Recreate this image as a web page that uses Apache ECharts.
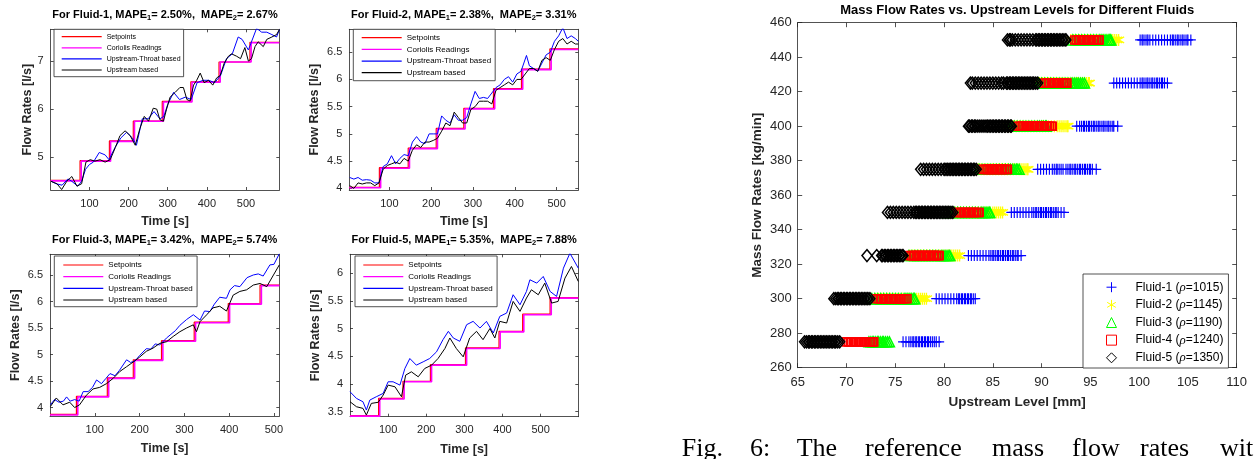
<!DOCTYPE html>
<html><head><meta charset="utf-8">
<script src="https://cdn.jsdelivr.net/npm/echarts@6/dist/echarts.min.js"></script>
<style>html,body{margin:0;padding:0;background:#fff}#c{width:1255px;height:459px}</style>
</head><body><div id="c"></div>
<script>
// ---------------- time-series panels ----------------
const lineNames = ['Setpoints', 'Coriolis Readings', 'Upstream-Throat based', 'Upstream based'];
const panelFluids = ['Fluid-1', 'Fluid-2', 'Fluid-3', 'Fluid-5'];
const mape1 = ['2.50%', '2.38%', '3.42%', '5.35%'];
const mape2 = ['2.67%', '3.31%', '5.74%', '7.88%'];
const timeTicks = [100, 200, 300, 400, 500];
const f1YTicks = [5, 6, 7];
const f2YTicks = [4, 4.5, 5, 5.5, 6, 6.5];
const f3YTicks = [4, 4.5, 5, 5.5, 6, 6.5];
const f5YTicks = [3.5, 4, 4.5, 5, 5.5, 6];

// Fluid-1
const f1StepT = [1, 76, 151, 212, 286, 359, 431, 510, 585];
const f1Set = [4.52, 4.93, 5.34, 5.75, 6.16, 6.57, 6.98, 7.39];
const f1CorT = [1, 79, 154, 215, 289, 362, 434, 513, 585];
const f1Cor = [4.51, 4.92, 5.33, 5.75, 6.15, 6.56, 6.98, 7.38];
const f1Throat = [[2,4.5],[15,4.45],[30,4.42],[45,4.55],[55,4.5],[70,4.4],[80,4.5],[90,4.75],[100,4.85],[110,4.9],[125,5.1],[140,5.05],[150,4.95],[165,5.2],[180,5.4],[195,5.52],[210,5.4],[220,5.25],[235,5.8],[250,5.8],[265,5.95],[280,5.8],[290,5.85],[300,6.1],[315,6.35],[330,6.2],[345,6.25],[360,6.2],[375,6.55],[390,6.6],[405,6.6],[420,6.55],[435,6.7],[450,7.05],[465,7.15],[480,7.5],[490,7.45],[506,7.23],[527,7.68],[540,7.6],[553,7.6],[566,7.55],[578,7.5],[585,7.65]];
const f1Up = [[2,4.5],[17,4.45],[29,4.33],[42,4.5],[55,4.6],[68,4.4],[80,4.45],[91,4.9],[102,4.95],[114,4.92],[127,4.95],[140,4.9],[153,4.95],[166,5.2],[178,5.45],[191,5.55],[204,5.45],[217,5.25],[229,5.6],[240,5.85],[251,5.75],[263,6.02],[272,6.0],[280,5.78],[289,5.75],[297,6.0],[306,6.25],[319,6.35],[331,6.45],[340,6.45],[349,6.2],[357,6.17],[366,6.5],[374,6.6],[383,6.75],[393,6.55],[404,6.6],[415,6.5],[425,6.65],[434,6.7],[444,6.95],[455,7.1],[463,7.15],[476,7.1],[486,7.05],[497,7.28],[506,7.0],[514,7.05],[523,7.3],[531,7.4],[544,7.3],[553,7.45],[566,7.5],[578,7.55],[585,7.65]];

// Fluid-2
const f2StepT = [4, 76, 145, 212, 278, 349, 416, 484, 552];
const f2Set = [4.02, 4.38, 4.74, 5.10, 5.47, 5.83, 6.19, 6.56];
const f2CorT = [4, 79, 148, 215, 281, 352, 419, 487, 552];
const f2Cor = [4.01, 4.37, 4.73, 5.09, 5.46, 5.82, 6.18, 6.55];
const f2Throat = [[5,4.2],[15,4.17],[25,4.2],[35,4.15],[45,4.16],[55,4.15],[65,4.1],[75,4.1],[85,4.4],[95,4.45],[105,4.6],[115,4.45],[125,4.55],[135,4.62],[145,4.6],[155,4.85],[165,4.95],[175,4.85],[185,4.82],[195,5.0],[205,5.0],[215,5.0],[225,5.33],[235,5.25],[245,5.2],[255,5.35],[265,5.25],[275,5.25],[285,5.3],[295,5.55],[305,5.78],[315,5.65],[325,5.67],[335,5.65],[345,5.75],[355,5.85],[365,5.9],[375,6.0],[385,6.05],[395,5.95],[405,6.1],[415,6.15],[428,6.44],[435,6.25],[445,6.2],[455,6.15],[465,6.3],[475,6.45],[485,6.5],[495,6.7],[505,6.8],[515,6.95],[525,6.75],[535,6.8],[545,6.75],[552,6.7]];
const f2Up = [[5,4.05],[15,4.0],[25,4.1],[35,4.08],[45,4.1],[55,4.1],[65,4.05],[75,4.1],[85,4.35],[95,4.42],[105,4.45],[115,4.48],[125,4.45],[135,4.55],[145,4.5],[155,4.7],[165,4.8],[175,4.75],[185,4.85],[195,4.85],[205,4.88],[215,4.92],[225,5.05],[235,5.2],[245,5.15],[255,5.4],[265,5.3],[275,5.2],[285,5.2],[295,5.45],[305,5.5],[315,5.6],[325,5.6],[335,5.6],[345,5.55],[355,5.8],[365,5.85],[375,5.9],[385,5.95],[395,5.9],[405,6.0],[415,6.0],[425,6.1],[435,6.2],[445,6.2],[455,6.15],[465,6.35],[475,6.4],[485,6.35],[495,6.55],[505,6.7],[515,6.75],[525,6.65],[535,6.7],[545,6.65],[552,6.65]];

// Fluid-3
const f3StepT = [0, 59, 128, 186, 249, 322, 398, 469, 512];
const f3Set = [3.87, 4.21, 4.56, 4.90, 5.26, 5.61, 5.96, 6.31];
const f3CorT = [0, 62, 131, 189, 252, 325, 401, 472, 512];
const f3Cor = [3.86, 4.20, 4.55, 4.89, 5.25, 5.60, 5.95, 6.30];
const f3Throat = [[1,4.05],[10,4.15],[20,4.1],[30,4.12],[37,4.2],[45,4.12],[55,4.15],[65,4.12],[74,4.3],[85,4.3],[95,4.38],[104,4.52],[115,4.45],[125,4.55],[134,4.64],[145,4.6],[155,4.7],[171,4.9],[180,4.85],[190,4.88],[200,4.98],[215,5.11],[225,5.1],[235,5.2],[245,5.18],[260,5.31],[270,5.38],[280,5.45],[290,5.55],[305,5.66],[320,5.75],[335,5.65],[345,5.82],[357,5.81],[367,5.95],[379,6.08],[394,6.06],[402,6.22],[412,6.3],[424,6.28],[440,6.45],[454,6.5],[465,6.52],[476,6.48],[491,6.69],[500,6.7],[512,6.9]];
const f3Up = [[1,4.02],[14,4.18],[29,4.05],[44,4.1],[55,4.0],[66,4.05],[81,4.23],[96,4.35],[111,4.38],[126,4.45],[141,4.55],[156,4.68],[171,4.77],[186,4.86],[200,4.95],[215,5.06],[230,5.12],[245,5.21],[260,5.24],[275,5.34],[290,5.43],[305,5.5],[320,5.56],[327,5.43],[335,5.62],[350,5.75],[364,5.88],[379,5.91],[394,5.82],[409,6.12],[424,6.19],[439,6.22],[454,6.31],[469,6.34],[484,6.28],[499,6.5],[512,6.69]];

// Fluid-5
const f5StepT = [0, 75, 139, 211, 303, 391, 453, 525, 599];
const f5Set = [3.43, 3.74, 4.05, 4.35, 4.65, 4.95, 5.26, 5.56];
const f5CorT = [0, 78, 142, 214, 306, 394, 456, 528, 599];
const f5Cor = [3.42, 3.73, 4.04, 4.34, 4.64, 4.94, 5.25, 5.55];
const f5Throat = [[0,3.86],[17,3.74],[34,3.68],[43,3.53],[52,3.71],[69,3.77],[87,3.83],[100,4.04],[113,4.04],[131,3.98],[144,4.28],[157,4.46],[174,4.34],[192,4.4],[209,4.46],[227,4.58],[244,4.8],[258,4.95],[271,4.83],[288,4.77],[306,5.07],[323,5.13],[341,5.01],[358,5.13],[376,4.92],[393,5.22],[411,5.28],[428,5.61],[446,5.43],[463,5.67],[472,5.88],[490,5.82],[507,5.94],[525,5.67],[542,5.58],[560,6.09],[577,6.36],[599,6.09]];
const f5Up = [[0,3.68],[17,3.59],[34,3.56],[43,3.44],[56,3.65],[74,3.67],[87,3.8],[100,3.98],[118,3.95],[135,3.77],[146,4.16],[161,4.22],[179,4.13],[196,4.28],[214,4.34],[231,4.46],[249,4.64],[262,4.83],[279,4.64],[297,4.49],[314,4.83],[332,4.95],[349,4.8],[367,5.0],[380,4.83],[393,5.13],[411,5.1],[428,5.49],[446,5.31],[463,5.55],[476,5.7],[494,5.61],[511,5.82],[529,5.46],[546,5.49],[564,5.91],[581,6.12],[599,5.85]];

// ---------------- scatter panel ----------------
const flowLevels = [275, 300, 325, 350, 375, 400, 425, 450];
const fluidNames = ['Fluid-1', 'Fluid-2', 'Fluid-3', 'Fluid-4', 'Fluid-5'];
const fluidRho = ['1015', '1145', '1190', '1240', '1350'];
const levelTicksX = [65, 110];
const levelTicksY = [260, 460];
const fluid1X = [
  [75.8,76.1,76.4,76.6,76.8,76.9,77.1,77.2,77.4,77.5,77.7,77.8,78.0,78.1,78.3,78.4,78.6,78.8,79.0,79.2,79.5],
  [79.2,79.5,79.8,80.1,80.4,80.7,81.0,81.3,81.5,81.6,81.8,81.9,82.1,82.2,82.4,82.5,82.7,82.8,83.0,83.2],
  [82.5,82.8,83.1,83.4,83.7,84.0,84.3,84.6,84.8,85.0,85.1,85.3,85.5,85.6,85.8,86.0,86.1,86.3,86.5,86.6,86.8,87.0,87.1,87.3,87.5,87.6,87.9],
  [86.9,87.2,87.5,87.8,88.1,88.4,88.7,89.0,89.2,89.4,89.5,89.7,89.9,90.0,90.2,90.4,90.5,90.7,90.9,91.0,91.2,91.4,91.5,91.7,92.0,92.3],
  [89.6,89.9,90.2,90.5,90.8,91.1,91.3,91.5,91.6,91.8,92.0,92.2,92.5,92.7,92.9,93.0,93.2,93.4,93.5,93.7,93.9,94.0,94.2,94.4,94.5,94.7,94.9,95.0,95.2,95.6],
  [93.6,93.9,94.1,94.3,94.4,94.6,94.8,94.9,95.1,95.3,95.4,95.6,95.8,95.9,96.1,96.3,96.4,96.6,96.8,96.9,97.1,97.3,97.4,97.8],
  [97.4,97.7,98.0,98.3,98.6,98.9,99.2,99.5,99.8,100.1,100.3,100.4,100.6,100.8,100.9,101.1,101.3,101.4,101.6,101.8,101.9,102.1,102.3,102.4,102.6,102.9],
  [100.1,100.3,100.4,100.6,100.8,100.9,101.1,101.4,101.7,102.0,102.3,102.6,102.9,103.2,103.4,103.5,103.7,103.9,104.0,104.2,104.4,104.5,104.7,104.9,105.0,105.3]
];
const fluid2X = [
  [],
  [73.0,73.3,73.6,73.9,74.2,74.5,74.8,75.1,75.4,75.7,76.0,76.3,76.6,76.9,77.2,77.4,77.6,77.8,78.0,78.2],
  [76.5,76.8,77.1,77.4,77.7,78.0,78.3,78.6,78.9,79.2,79.5,79.8,80.1,80.4,80.6,80.8,81.0,81.2,81.4,81.6],
  [80.5,80.8,81.1,81.4,81.7,82.0,82.3,82.6,82.9,83.2,83.5,83.8,84.1,84.4,84.7,85.0,85.2,85.4,85.6,85.8,86.0],
  [83.5,83.8,84.1,84.4,84.7,85.0,85.3,85.6,85.9,86.2,86.5,86.8,87.1,87.4,87.7,87.9,88.1,88.3,88.5,88.6],
  [86.5,86.8,87.1,87.4,87.7,88.0,88.3,88.6,88.9,89.2,89.5,89.8,90.1,90.4,90.7,91.0,91.3,91.6,91.8,92.0,92.2,92.4,92.6,92.7],
  [89.5,89.8,90.1,90.4,90.7,91.0,91.3,91.6,91.9,92.2,92.5,92.8,93.1,93.4,93.7,94.0,94.2,94.4,94.6,94.8,94.9],
  [93.0,93.3,93.6,93.9,94.2,94.5,94.8,95.1,95.4,95.7,96.0,96.3,96.6,96.9,97.1,97.3,97.5,97.7,97.9]
];
const fluid3X = [
  [72.3,72.5,72.7,72.8,73.0,73.2,73.3,73.5,73.7,73.8,74.0,74.2,74.4],
  [72.6,72.9,73.2,73.5,73.8,74.1,74.4,74.7,75.0,75.3,75.6,75.9,76.1,76.3,76.5,76.7,76.9,77.0],
  [76.4,76.7,77.0,77.3,77.6,77.9,78.2,78.5,78.8,79.1,79.4,79.7,79.9,80.1,80.3,80.5,80.6],
  [80.2,80.5,80.8,81.1,81.4,81.7,82.0,82.3,82.6,82.9,83.2,83.5,83.8,84.0,84.2,84.4,84.6,84.7],
  [83.6,83.9,84.2,84.5,84.8,85.1,85.4,85.7,86.0,86.3,86.6,86.8,87.0,87.2,87.4,87.5,87.7],
  [86.6,86.9,87.2,87.5,87.8,88.1,88.4,88.7,89.0,89.3,89.6,89.8,90.0,90.2,90.4,90.5],
  [89.7,90.0,90.3,90.6,90.9,91.2,91.5,91.8,92.1,92.4,92.7,93.0,93.2,93.4,93.6,93.8,94.0,94.2,94.4],
  [93.2,93.5,93.8,94.1,94.4,94.7,95.0,95.3,95.6,95.9,96.1,96.3,96.5,96.7,96.9,97.0,97.1]
];
const fluid4X = [
  [70.0,70.2,70.4,70.5,70.7,70.9,71.0,71.2,71.4,71.5,71.7,71.9,72.0,72.2,72.4,72.5,72.7,72.8],
  [73.1,73.3,73.5,73.6,73.8,74.0,74.1,74.3,74.5,74.6,74.8,75.0,75.1,75.3,75.5,75.6,75.8,76.0,76.2],
  [76.5,76.7,76.9,77.0,77.2,77.4,77.5,77.7,77.9,78.0,78.2,78.4,78.5,78.7,78.9,79.0,79.2,79.4,79.5],
  [81.3,81.5,81.6,81.8,82.0,82.1,82.3,82.5,82.6,82.8,83.0,83.1,83.3,83.5,83.6],
  [84.0,84.2,84.4,84.5,84.7,84.9,85.0,85.2,85.4,85.5,85.7,85.9,86.0,86.2,86.4,86.5],
  [87.6,87.8,88.0,88.1,88.3,88.5,88.6,88.8,89.0,89.1,89.3,89.5,89.6,89.8,90.0,90.1,90.3,90.5,90.6,90.8,91.0,91.1],
  [90.3,90.5,90.7,90.8,91.0,91.2,91.3,91.5,91.7,91.8,92.0,92.2,92.3,92.5,92.6],
  [93.4,93.6,93.8,93.9,94.1,94.3,94.4,94.6,94.8,94.9,95.1,95.3,95.4,95.6,95.8,95.9]
];
const fluid5X = [
  [65.7,65.9,66.1,66.2,66.4,66.5,66.7,66.8,67.0,67.1,67.3,67.4,67.6,67.7,67.9,68.0,68.2,68.3,68.5,68.6,68.8,68.9,69.1,69.3],
  [68.7,68.9,69.1,69.2,69.4,69.5,69.7,69.8,70.0,70.1,70.3,70.4,70.6,70.7,70.9,71.0,71.2,71.3,71.5,71.6,71.8,71.9,72.1,72.2,72.4],
  [72.1,73.1,73.6,73.7,73.9,74.0,74.2,74.3,74.5,74.6,74.8,74.9,75.1,75.2,75.4,75.5,75.7,75.8],
  [74.2,74.5,74.8,75.1,75.4,75.7,76.0,76.3,76.6,76.9,77.1,77.2,77.4,77.5,77.7,77.8,78.0,78.1,78.3,78.4,78.6,78.7,78.9,79.0,79.2,79.3,79.5,79.6,79.8,79.9,80.1,80.2,80.4,80.5,80.7,80.9],
  [77.6,77.9,78.2,78.5,78.8,79.1,79.4,79.7,80.0,80.1,80.3,80.4,80.6,80.7,80.9,81.0,81.2,81.3,81.5,81.6,81.8,81.9,82.1,82.2,82.4,82.5,82.7,82.8,83.0,83.1,83.3],
  [82.5,82.6,82.8,82.9,83.1,83.2,83.4,83.6,83.8,84.0,84.2,84.4,84.5,84.7,84.8,85.0,85.1,85.3,85.4,85.6,85.7,85.9,86.0,86.2,86.3,86.5,86.6,86.8,86.9],
  [82.7,82.9,83.2,83.5,83.8,84.1,84.4,84.7,85.0,85.3,85.6,85.9,86.1,86.4,86.5,86.7,86.8,87.0,87.1,87.3,87.4,87.6,87.7,87.9,88.0,88.2,88.3,88.5,88.6,88.8,88.9,89.1,89.2,89.4,89.6],
  [86.5,86.7,86.8,87.0,87.3,87.6,87.9,88.2,88.5,88.8,89.1,89.4,89.5,89.7,89.8,90.0,90.1,90.3,90.4,90.6,90.7,90.9,91.0,91.2,91.3,91.5,91.6,91.8,91.9,92.1,92.2,92.4,92.5]
];

// caption words
const captionWords = ['Fig.', '6:', 'The', 'reference', 'mass', 'flow', 'rates', 'wit'];

// ---------------- building ----------------
const FONT = 'Liberation Sans';
const AX = '#262626';
const panels = [
  { grid: {left: 50.7, top: 29.3, width: 228.6, height: 160.7}, x: [1, 585], y: [4.32, 7.66], yt: f1YTicks,
    stepT: f1StepT, set: f1Set, corT: f1CorT, cor: f1Cor, thr: f1Throat, up: f1Up, yGap: 16.7, xGap: 25,
    legend: {left: 54, top: 29.3, fs: 7, lh: 8, pad: [3.4, 3, 2.7, 7.7], gap: 3.1} },
  { grid: {left: 349.3, top: 29.3, width: 229, height: 160.7}, x: [4, 552], y: [3.97, 6.92], yt: f2YTicks,
    stepT: f2StepT, set: f2Set, corT: f2CorT, cor: f2Cor, thr: f2Throat, up: f2Up, yGap: 28, xGap: 25,
    legend: {left: 353.3, top: 29.3, fs: 8, lh: 9, pad: [3.9, 4, 3.5, 8.4], gap: 2.67} },
  { grid: {left: 50, top: 254.3, width: 229.3, height: 161.7}, x: [0, 512], y: [3.84, 6.89], yt: f3YTicks,
    stepT: f3StepT, set: f3Set, corT: f3CorT, cor: f3Cor, thr: f3Throat, up: f3Up, yGap: 28, xGap: 26,
    legend: {left: 54.3, top: 256, fs: 8, lh: 9, pad: [4.5, 4.3, 2.2, 9], gap: 2.67} },
  { grid: {left: 350, top: 254.3, width: 228.3, height: 162.4}, x: [0, 599], y: [3.41, 6.34], yt: f5YTicks,
    stepT: f5StepT, set: f5Set, corT: f5CorT, cor: f5Cor, thr: f5Throat, up: f5Up, yGap: 28, xGap: 26,
    legend: {left: 355, top: 256, fs: 8, lh: 9, pad: [4.5, 4.3, 2.2, 8.3], gap: 2.67} }
];

const grids = [], xAxes = [], yAxes = [], series = [], titles = [], legends = [];

function stepData(ts, vs) {
  return ts.map((t, k) => [t, vs[Math.min(k, vs.length - 1)]]);
}
const lineIcon = 'path://M0,0L40,0L40,1.2L0,1.2Z';

panels.forEach((p, i) => {
  grids.push(Object.assign({containLabel: false, show: false}, p.grid));
  const tickCommon = {show: true, inside: true, length: 3, lineStyle: {color: AX, width: 0.8}};
  xAxes.push({
    type: 'value', gridIndex: i, position: 'bottom', min: p.x[0], max: p.x[1],
    axisLine: {show: true, onZero: false, lineStyle: {color: AX, width: 0.8}},
    axisTick: Object.assign({customValues: timeTicks}, tickCommon),
    axisLabel: {customValues: timeTicks, color: AX, fontSize: 11, fontFamily: FONT, margin: 8},
    splitLine: {show: false},
    name: 'Time [s]', nameLocation: 'middle', nameGap: p.xGap,
    nameTextStyle: {color: AX, fontSize: 12.5, fontWeight: 'bold', fontFamily: FONT}
  });
  xAxes.push({
    type: 'value', gridIndex: i, position: 'top', min: p.x[0], max: p.x[1],
    axisLine: {show: true, onZero: false, lineStyle: {color: AX, width: 0.8}},
    axisTick: Object.assign({customValues: timeTicks}, tickCommon),
    axisLabel: {show: false}, splitLine: {show: false}
  });
  yAxes.push({
    type: 'value', gridIndex: i, position: 'left', min: p.y[0], max: p.y[1],
    axisLine: {show: true, onZero: false, lineStyle: {color: AX, width: 0.8}},
    axisTick: Object.assign({customValues: p.yt}, tickCommon),
    axisLabel: {customValues: p.yt, color: AX, fontSize: 11, fontFamily: FONT, margin: 7},
    splitLine: {show: false},
    name: 'Flow Rates [l/s]', nameLocation: 'middle', nameGap: p.yGap, nameRotate: 90,
    nameTextStyle: {color: AX, fontSize: 12.5, fontWeight: 'bold', fontFamily: FONT}
  });
  yAxes.push({
    type: 'value', gridIndex: i, position: 'right', min: p.y[0], max: p.y[1],
    axisLine: {show: true, onZero: false, lineStyle: {color: AX, width: 0.8}},
    axisTick: Object.assign({customValues: p.yt}, tickCommon),
    axisLabel: {show: false}, splitLine: {show: false}
  });
  const xi = 2 * i, yi = 2 * i;
  const base = {type: 'line', xAxisIndex: xi, yAxisIndex: yi, symbol: 'none', showSymbol: false, silent: true, animation: false};
  series.push(Object.assign({}, base, {name: lineNames[0], step: 'end', data: stepData(p.stepT, p.set),
    color: '#ff0000', itemStyle: {color: '#ff0000'}, lineStyle: {color: '#ff0000', width: 1.2}}));
  series.push(Object.assign({}, base, {name: lineNames[1], step: 'end', data: stepData(p.corT, p.cor),
    color: '#ff00ff', itemStyle: {color: '#ff00ff'}, lineStyle: {color: '#ff00ff', width: 1.6}}));
  series.push(Object.assign({}, base, {name: lineNames[2], data: p.thr,
    color: '#0000ff', itemStyle: {color: '#0000ff'}, lineStyle: {color: '#0000ff', width: 1}}));
  series.push(Object.assign({}, base, {name: lineNames[3], data: p.up,
    color: '#000000', itemStyle: {color: '#000000'}, lineStyle: {color: '#000000', width: 1}}));

  const g = p.grid;
  titles.push({
    text: '{b|For ' + panelFluids[i] + ', MAPE}{s|1}{b|= ' + mape1[i] + ',  MAPE}{s|2}{b|= ' + mape2[i] + '}',
    left: g.left + g.width / 2, textAlign: 'center', top: g.top - 20.5, padding: 0,
    textStyle: {rich: {
      b: {fontSize: 11, fontWeight: 'bold', fontFamily: FONT, color: '#000', lineHeight: 13},
      s: {fontSize: 7.5, fontWeight: 'bold', fontFamily: FONT, color: '#000', lineHeight: 6, verticalAlign: 'bottom'}
    }}
  });
  const L = p.legend;
  legends.push({
    data: lineNames.map(n => ({name: n, icon: lineIcon})),
    left: L.left, top: L.top, orient: 'vertical', itemWidth: 40, itemHeight: L.fs, symbolKeepAspect: true,
    itemGap: L.gap, padding: L.pad, backgroundColor: '#fff', borderColor: '#262626', borderWidth: 0.8,
    selectedMode: false, borderRadius: 0,
    textStyle: {fontSize: L.fs, fontFamily: FONT, color: '#000', lineHeight: L.lh}
  });
});

// scatter grid
const sg = 4;
grids.push({left: 797.7, top: 22.7, width: 439, height: 345, show: false});
const sTick = {show: true, inside: true, length: 4.5, lineStyle: {color: AX, width: 0.8}};
xAxes.push({
  type: 'value', gridIndex: sg, position: 'bottom', min: levelTicksX[0], max: levelTicksX[1], interval: 5,
  axisLine: {show: true, onZero: false, lineStyle: {color: AX, width: 0.8}}, axisTick: sTick,
  axisLabel: {color: AX, fontSize: 13, fontFamily: FONT, margin: 8}, splitLine: {show: false},
  name: 'Upstream Level [mm]', nameLocation: 'middle', nameGap: 28,
  nameTextStyle: {color: AX, fontSize: 13.5, fontWeight: 'bold', fontFamily: FONT}
});
xAxes.push({
  type: 'value', gridIndex: sg, position: 'top', min: levelTicksX[0], max: levelTicksX[1], interval: 5,
  axisLine: {show: true, onZero: false, lineStyle: {color: AX, width: 0.8}}, axisTick: sTick,
  axisLabel: {show: false}, splitLine: {show: false}
});
yAxes.push({
  type: 'value', gridIndex: sg, position: 'left', min: levelTicksY[0], max: levelTicksY[1], interval: 20,
  axisLine: {show: true, onZero: false, lineStyle: {color: AX, width: 0.8}}, axisTick: sTick,
  axisLabel: {color: AX, fontSize: 13, fontFamily: FONT, margin: 6}, splitLine: {show: false},
  name: 'Mass Flow Rates [kg/min]', nameLocation: 'middle', nameGap: 33, nameRotate: 90,
  nameTextStyle: {color: AX, fontSize: 13.5, fontWeight: 'bold', fontFamily: FONT}
});
yAxes.push({
  type: 'value', gridIndex: sg, position: 'right', min: levelTicksY[0], max: levelTicksY[1], interval: 20,
  axisLine: {show: true, onZero: false, lineStyle: {color: AX, width: 0.8}}, axisTick: sTick,
  axisLabel: {show: false}, splitLine: {show: false}
});

const fluidX = [fluid1X, fluid2X, fluid3X, fluid4X, fluid5X];
const fluidColors = ['#0000ff', '#ffff00', '#00ff00', '#ff0000', '#000000'];
const fluidSymbols = [
  'path://M5,0L5,10M0,5L10,5',
  'path://M5,0L5,10M0.67,2.5L9.33,7.5M0.67,7.5L9.33,2.5',
  'triangle', 'rect', 'diamond'
];
const fluidSizes = [[10, 11], [11, 12], [10, 10], [8, 8], [10, 12]];
const fluidBorder = [1.2, 1.3, 1.5, 1.6, 1.5];
fluidX.forEach((lv, k) => {
  const data = [];
  lv.forEach((xs, li) => xs.forEach(x => data.push([x, flowLevels[li]])));
  series.push({
    type: 'scatter', name: fluidNames[k], xAxisIndex: 2 * sg, yAxisIndex: 2 * sg,
    data: data, symbol: fluidSymbols[k], symbolSize: fluidSizes[k], silent: true, animation: false,
    itemStyle: {color: 'rgba(0,0,0,0)', borderColor: fluidColors[k], borderWidth: fluidBorder[k], opacity: 1}
  });
});

titles.push({
  text: 'Mass Flow Rates vs. Upstream Levels for Different Fluids',
  left: 797.7 + 439 / 2, textAlign: 'center', top: 3.5, padding: 0,
  textStyle: {fontSize: 13, fontWeight: 'bold', fontFamily: FONT, color: '#000'}
});
legends.push({
  data: fluidNames, left: 1083, top: 274, orient: 'vertical', itemWidth: 10, itemHeight: 10,
  symbolKeepAspect: true,
  itemGap: 4.65, padding: [6.7, 5, 3.7, 23], backgroundColor: '#fff', borderColor: '#262626', borderWidth: 0.8,
  selectedMode: false,
  itemStyle: {borderWidth: 1},
  formatter: name => {
    const k = fluidNames.indexOf(name);
    return '{w| }{n|' + name + ' (}{r|ρ}{n|=' + fluidRho[k] + ')}';
  },
  textStyle: {fontSize: 12, fontFamily: FONT, color: '#000', lineHeight: 12, rich: {
    w: {width: 14, fontSize: 12, lineHeight: 12},
    n: {fontSize: 12, fontFamily: FONT, color: '#000', lineHeight: 12},
    r: {fontSize: 13, fontFamily: 'Liberation Serif', fontStyle: 'italic', color: '#000', lineHeight: 12}
  }}
});

const captionX = [681.7, 750, 796.7, 865, 992, 1072, 1140, 1220];
const graphics = captionWords.map((w, k) => ({
  type: 'text', left: captionX[k], top: 436, silent: true,
  style: {text: w, fontSize: 26, fontFamily: 'Liberation Serif', fill: '#000'}
}));

const chart = echarts.init(document.getElementById('c'), null, {renderer: 'canvas'});
chart.setOption({
  backgroundColor: '#fff', animation: false,
  title: titles, legend: legends, grid: grids, xAxis: xAxes, yAxis: yAxes, series: series, graphic: graphics
});
</script></body></html>
